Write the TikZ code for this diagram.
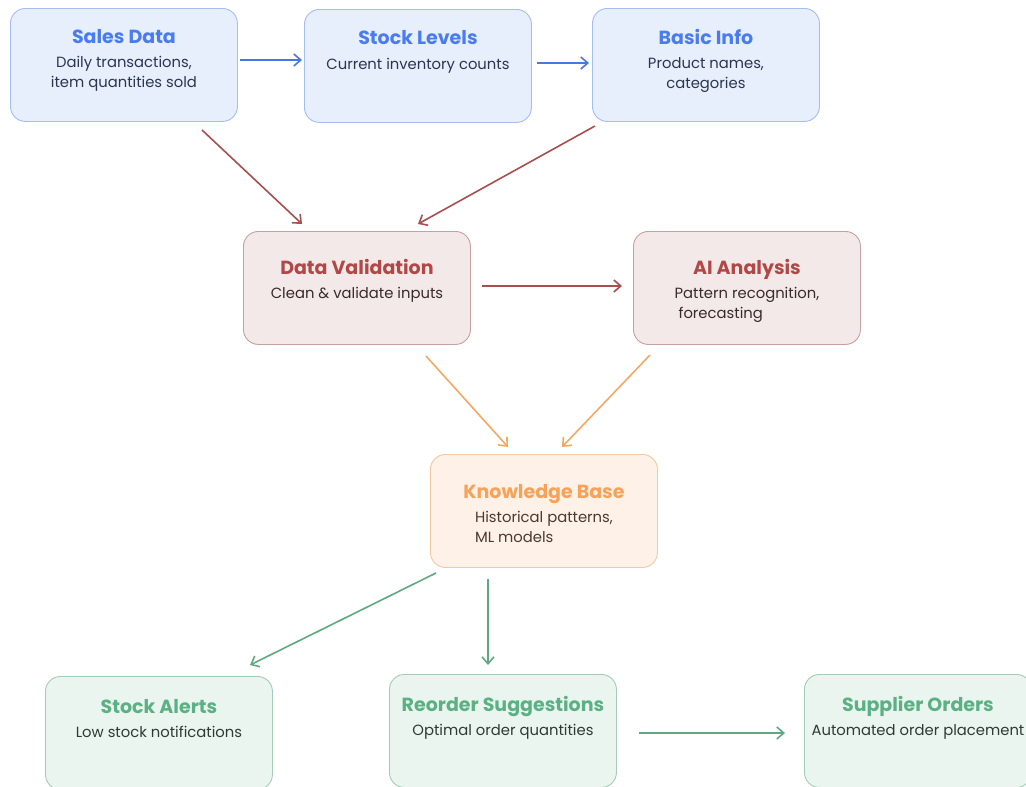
\documentclass[tikz,border=0pt]{standalone}
\usepackage{fontspec}
\setmainfont{Poppins}
\usetikzlibrary{arrows.meta,calc}

% palette
\definecolor{blueFill}{HTML}{E7EFFD}
\definecolor{blueLine}{HTML}{A4BDF2}
\definecolor{blueTitle}{HTML}{4A7CF0}
\definecolor{blueText}{HTML}{2B3550}
\definecolor{blueArrow}{HTML}{4677E3}
\definecolor{redFill}{HTML}{F4E9E9}
\definecolor{redLine}{HTML}{C9A0A0}
\definecolor{redTitle}{HTML}{B04848}
\definecolor{redText}{HTML}{3A2A2A}
\definecolor{redArrow}{HTML}{A84E4E}
\definecolor{orFill}{HTML}{FEF1E8}
\definecolor{orLine}{HTML}{F6C9A2}
\definecolor{orTitle}{HTML}{F7A257}
\definecolor{orText}{HTML}{4A3A30}
\definecolor{orArrow}{HTML}{F5A862}
\definecolor{grFill}{HTML}{EAF5F0}
\definecolor{grLine}{HTML}{A3CDB6}
\definecolor{grTitle}{HTML}{5BB183}
\definecolor{grText}{HTML}{2F3A35}
\definecolor{grArrow}{HTML}{5EA882}

\tikzset{
  card/.style={draw, rounded corners=15pt, line width=0.9pt,
    minimum width=227pt, minimum height=113pt, inner sep=0pt, anchor=north west},
  cardtitle/.style={anchor=base, inner sep=0pt, font=\fontsize{19}{22}\bfseries},
  cardsub/.style={anchor=base, inner sep=0pt, font=\fontsize{14.8}{19.5}\selectfont},
  flow/.style={line width=1.6pt, -{Straight Barb[length=7pt,width=12pt,line width=1.6pt]}},
}

% #1 name, #2 x, #3 y, #4 theme, #5 title offset, #6 title, #7 column type, #8 lines
\newcommand\flowcard[8]{%
  \node[card, fill=#4Fill, draw=#4Line] (#1) at (#2,#3) {};
  \node[cardtitle, text=#4Title] (#1-title) at ($(#1.north)+(0,#5+7)$) {#6};
  \node[cardsub, text=#4Text] (#1-sub) at ($(#1.north)+(0,#5+31.5)$)
    {\begin{tabular}[t]{@{}#7@{}}#8\end{tabular}};
}

\begin{document}
\begin{tikzpicture}[x=1pt, y=-1pt]
  \useasboundingbox (0,0) rectangle (1026,787);
  \clip (0,0) rectangle (1026,787);

  % inputs
  \flowcard{sales}{10}{8}{blue}{28}{Sales Data}{c}{Daily transactions,\\ item quantities sold}
  \flowcard{stock}{304}{9}{blue}{29}{Stock Levels}{c}{Current inventory counts}
  \flowcard{basic}{592}{8}{blue}{29}{Basic Info}{c}{Product names,\\ categories}

  % processing
  \flowcard{valid}{243}{231}{red}{36}{Data Validation}{c}{Clean \& validate inputs}
  \flowcard{ai}{633}{231}{red}{36}{AI Analysis}{l}{Pattern recognition,\\ \hspace{4pt}forecasting}

  % knowledge
  \flowcard{kb}{430}{454}{or}{37}{Knowledge Base}{l}{Historical patterns,\\ ML models}

  % outputs
  \flowcard{alerts}{45}{676}{gr}{30}{Stock Alerts}{c}{Low stock notifications}
  \flowcard{reorder}{389}{674}{gr}{30}{Reorder Suggestions}{c}{Optimal order quantities}
  \flowcard{supplier}{804}{674}{gr}{30}{Supplier Orders}{c}{Automated order placement}

  % connectors
  \draw[flow, blueArrow] ($(sales.north west)+(230,52)$) -- ($(stock.north west)+(-2,51)$);
  \draw[flow, blueArrow] ($(stock.north west)+(233,54)$) -- ($(basic.north west)+(-3,55)$);

  \draw[flow, redArrow] ($(sales.north west)+(192,122)$) -- ($(valid.north west)+(59,-7)$);
  \draw[flow, redArrow] ($(basic.north west)+(3,118)$) -- ($(valid.north west)+(175,-7)$);
  \draw[flow, redArrow] ($(valid.north west)+(239,55)$) -- ($(ai.north west)+(-11,55)$);

  \draw[flow, orArrow] ($(valid.north west)+(183,125)$) -- ($(kb.north west)+(78,-7)$);
  \draw[flow, orArrow] ($(ai.north west)+(17,124)$) -- ($(kb.north west)+(132,-7)$);

  \draw[flow, grArrow] ($(kb.north west)+(6,119)$) -- ($(alerts.north west)+(205,-11)$);
  \draw[flow, grArrow] ($(kb.north west)+(58,125)$) -- ($(reorder.north west)+(99,-9)$);
  \draw[flow, grArrow] ($(reorder.north west)+(250,59)$) -- ($(supplier.north west)+(-19,59)$);
\end{tikzpicture}
\end{document}
